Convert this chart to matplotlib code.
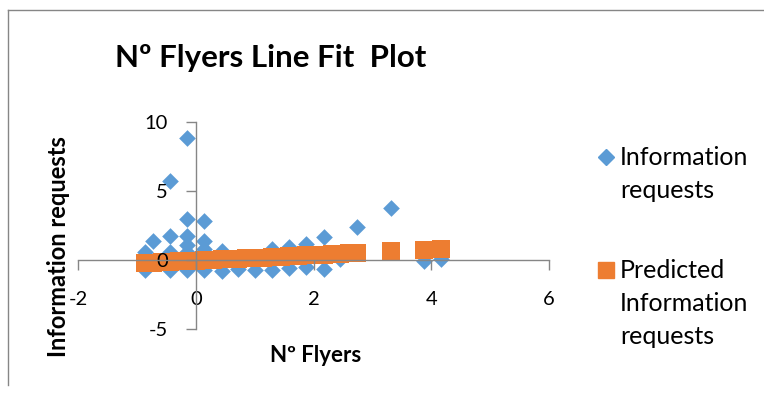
import matplotlib
matplotlib.use("Agg")
import matplotlib.pyplot as plt
from matplotlib.lines import Line2D

# residual-style line fit: observed vs predicted information requests
info_x = [-0.87, -0.87, -0.73, -0.44, -0.44, -0.44, -0.44,
          -0.15, -0.15, -0.15, -0.15, -0.15, -0.15,
          0.14, 0.14, 0.14, 0.14, 0.44, 0.44, 0.72, 1.00,
          1.29, 1.29, 1.58, 1.58, 1.87, 1.87, 2.17, 2.17,
          2.45, 2.74, 3.31, 3.88, 4.16]
info_y = [0.56, -0.70, 1.35, 5.75, 1.76, 0.60, -0.70,
          8.84, 2.96, 1.76, 1.10, 0.60, -0.70,
          2.80, 1.40, 0.80, -0.75, 0.68, -0.80, -0.63, -0.75,
          0.80, -0.75, 0.92, -0.60, 1.17, -0.50, 1.64, -0.63,
          0.05, 2.40, 3.80, -0.05, 0.10]

pred_x = [-0.87, -0.73, -0.58, -0.44, -0.29, -0.15, 0.00, 0.14, 0.29,
          0.44, 0.58, 0.72, 0.86, 1.00, 1.15, 1.29, 1.44, 1.58, 1.73,
          1.87, 2.02, 2.17, 2.31, 2.45, 2.60, 2.74, 3.31, 3.88, 4.16]
pred_y = [-0.22, -0.19, -0.16, -0.13, -0.10, -0.08, -0.05, -0.02, 0.01,
          0.04, 0.07, 0.10, 0.13, 0.16, 0.18, 0.21, 0.24, 0.27, 0.30,
          0.33, 0.36, 0.39, 0.42, 0.45, 0.48, 0.51, 0.62, 0.74, 0.79]

xticks = [-2, 0, 2, 4, 6]
yticks = [-5, 0, 5, 10]

BLUE = "#5B9BD5"
ORANGE = "#ED7D31"
GREY = "#868686"

plt.rcParams['font.family'] = ['Lato', 'DejaVu Sans']
plt.rcParams['axes.unicode_minus'] = False

fig = plt.figure(figsize=(7.64, 3.95), dpi=100)
ax = fig.add_axes([0.1021, 0.1671, 0.6165, 0.524])

ax.scatter(info_x, info_y, marker='D', s=72, color=BLUE, linewidths=0, zorder=1)
ax.scatter(pred_x, pred_y, marker='s', s=150, color=ORANGE, linewidths=0, zorder=1.5)

ax.set_xlim(-2, 6)
ax.set_ylim(-5, 10)
ax.set_xticks(xticks)
ax.set_yticks(yticks)

for s in ('top', 'right'):
    ax.spines[s].set_visible(False)
ax.spines['left'].set_position(('data', 0))
ax.spines['bottom'].set_position(('data', 0))
for s in ('left', 'bottom'):
    ax.spines[s].set_color(GREY)
    ax.spines[s].set_linewidth(1.0)

ax.tick_params(axis='x', direction='out', length=7, width=1, color=GREY,
               labelsize=14.5, pad=15)
ax.tick_params(axis='y', direction='out', length=7, width=1, color=GREY,
               labelsize=14.5, pad=13)
ax.patch.set_visible(False)

ax.set_xlabel('Nº Flyers', fontsize=16, fontweight='bold')
ax.xaxis.set_label_coords(0.505, -0.075)
ax.set_ylabel('Information requests', fontsize=17, fontweight='bold')
ax.yaxis.set_label_coords(-0.018, 0.396)

fig.text(0.354, 1 - 58 / 395, 'Nº Flyers Line Fit  Plot', fontsize=22.5,
         fontweight='bold', ha='center', va='center')

# legend built by hand: marker beside first line of each label
fig.add_artist(Line2D([605.7 / 764], [1 - 157 / 395], marker='D', markersize=8.5,
                      color=BLUE, linestyle='none', transform=fig.transFigure))
fig.add_artist(Line2D([605.7 / 764], [1 - 270 / 395], marker='s', markersize=12,
                      color=ORANGE, linestyle='none', transform=fig.transFigure))
fig.text(620 / 764, 1 - 146 / 395, 'Information\nrequests', fontsize=18,
         ha='left', va='top', linespacing=1.53)
fig.text(620 / 764, 1 - 259 / 395, 'Predicted\nInformation\nrequests', fontsize=18,
         ha='left', va='top', linespacing=1.53)

# chart area outline (top and left edges)
fig.add_artist(Line2D([8 / 764, 8 / 764], [1 - 385 / 395, 1 - 10 / 395],
                      color=GREY, linewidth=1, transform=fig.transFigure))
fig.add_artist(Line2D([8 / 764, 1.0], [1 - 10 / 395, 1 - 10 / 395],
                      color=GREY, linewidth=1, transform=fig.transFigure))

fig.savefig('out.png', dpi=100)
